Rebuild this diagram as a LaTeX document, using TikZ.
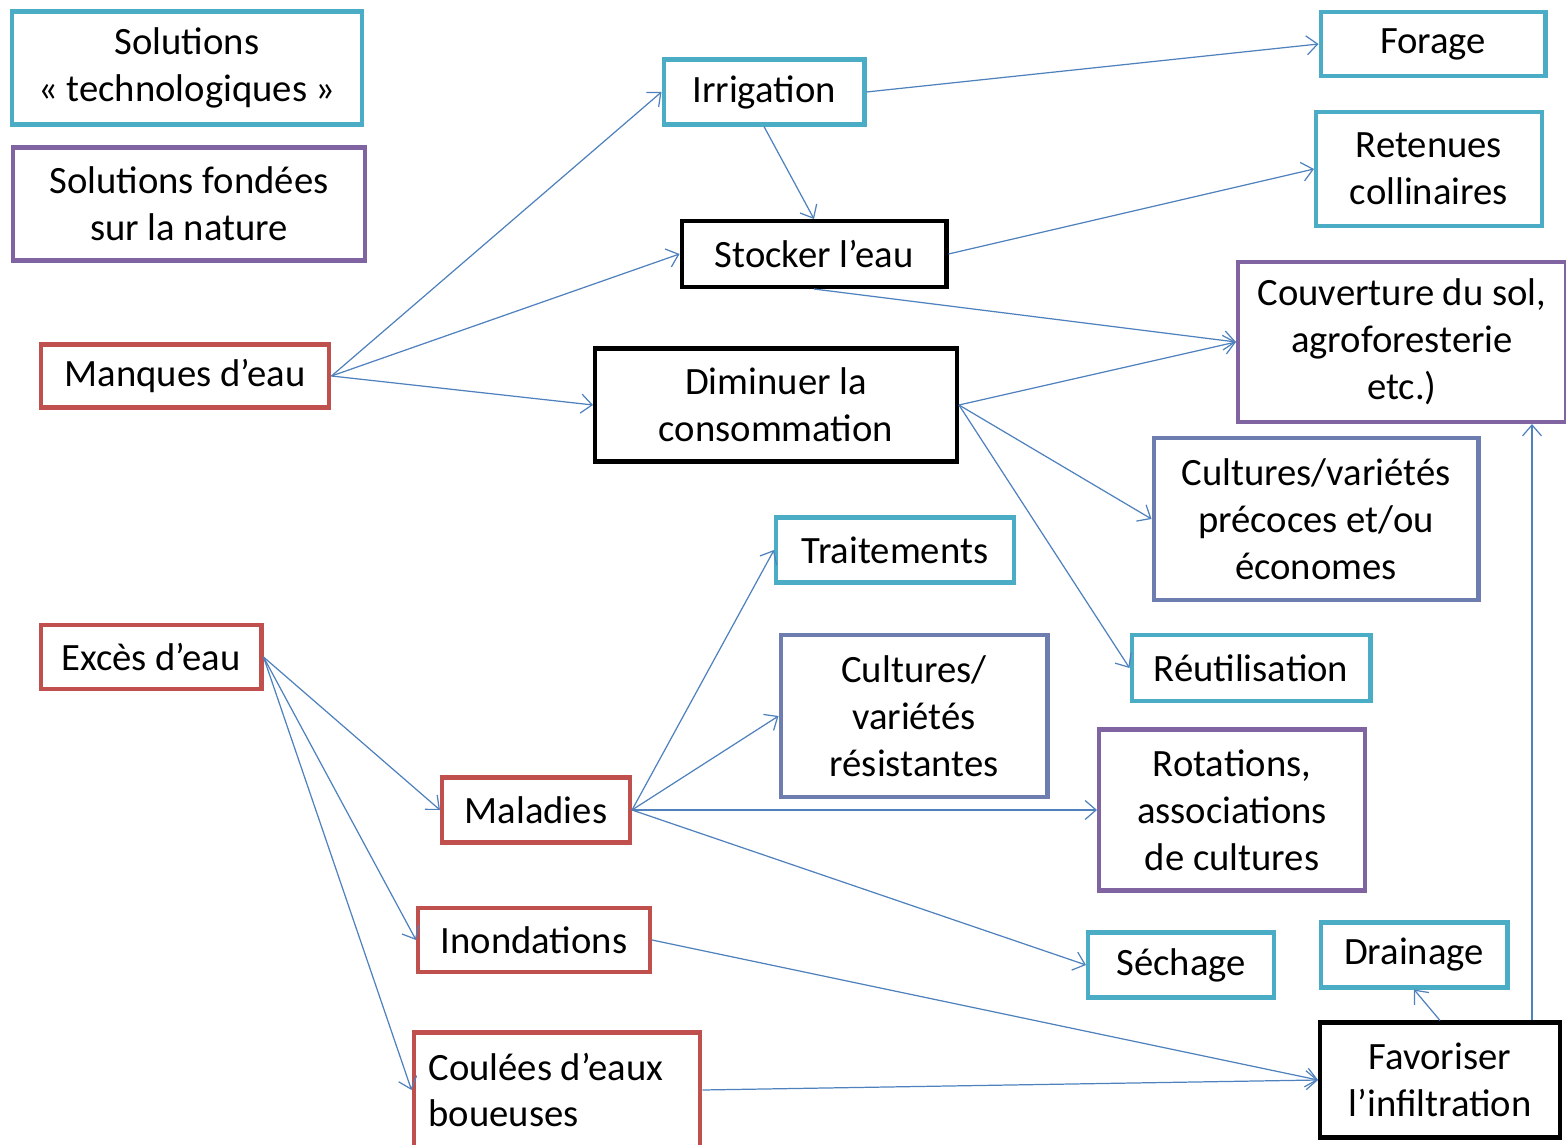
\documentclass[tikz,border=0pt]{standalone}
\usepackage{fontspec}
\setmainfont{Carlito}
\usetikzlibrary{arrows.meta}
\definecolor{techcyan}{RGB}{75,172,198}
\definecolor{natpurple}{RGB}{128,100,162}
\definecolor{probred}{RGB}{192,80,77}
\definecolor{linkblue}{RGB}{79,129,189}

\begin{document}
\begin{tikzpicture}[x=0.02cm, y=-0.02cm,
    every node/.style={font=\fontsize{22}{26.7}\selectfont, align=center, line width=2.3pt, inner sep=0pt},
    techbox/.style={draw=techcyan},
    natbox/.style={draw=natpurple},
    mixbox/.style={draw=natpurple!65!techcyan},
    probbox/.style={draw=probred},
    actbox/.style={draw=black},
    link/.style={draw=linkblue, line width=0.7pt, -{Straight Barb[length=2.2mm,width=3.8mm]}}]
    \useasboundingbox (0,0) rectangle (1566,1145);
    % legend
    \node[techbox, minimum width=7cm, minimum height=2.26cm] (soltech) at (187,68) {Solutions\\« technologiques »};
    \node[natbox, minimum width=7.04cm, minimum height=2.26cm] (solnat) at (189,204) {Solutions fondées\\sur la nature};
    % water shortage
    \node[probbox, minimum width=5.78cm, minimum height=1.26cm] (manques) at (185,376) {Manques d’eau};
    \node[techbox, minimum width=4.02cm, minimum height=1.3cm] (irrig) at (764,92) {Irrigation};
    \node[actbox, minimum width=5.3cm, minimum height=1.32cm] (stock) at (814,254) {Stocker l’eau};
    \node[actbox, minimum width=7.24cm, minimum height=2.26cm] (dimin) at (776,405) {Diminuer la\\consommation};
    \node[techbox, minimum width=4.5cm, minimum height=1.28cm] (forage) at (1433,44) {Forage};
    \node[techbox, minimum width=4.52cm, minimum height=2.28cm] (retenues) at (1429,169) {Retenues\\collinaires};
    \node[natbox, minimum width=6.56cm, minimum height=3.2cm] (couv) at (1402,342) {Couverture du sol,\\agroforesterie\\etc.)};
    \node[mixbox, minimum width=6.5cm, minimum height=3.24cm] (precoces) at (1316,519) {Cultures/variétés\\précoces et/ou\\économes};
    \node[techbox, minimum width=4.78cm, minimum height=1.32cm] (reutil) at (1251,668) {Réutilisation};
    % water excess
    \node[probbox, minimum width=4.42cm, minimum height=1.28cm] (exces) at (151,657) {Excès d’eau};
    \node[probbox, minimum width=3.76cm, minimum height=1.3cm] (malad) at (536,810) {Maladies};
    \node[probbox, minimum width=4.64cm, minimum height=1.28cm] (inond) at (534,940) {Inondations};
    \node[probbox, minimum width=5.74cm, minimum height=2.3cm, text width=5.14cm, align=flush left] (coulees) at (557,1090) {Coulées d’eaux\\boueuses};
    \node[techbox, minimum width=4.76cm, minimum height=1.3cm] (trait) at (895,550) {Traitements};
    \node[mixbox, minimum width=5.34cm, minimum height=3.24cm] (resist) at (914,716) {Cultures/\\variétés\\résistantes};
    \node[natbox, minimum width=5.32cm, minimum height=3.22cm] (rotat) at (1232,810) {Rotations,\\associations\\de cultures};
    \node[techbox, minimum width=3.72cm, minimum height=1.3cm] (sechage) at (1181,965) {Séchage};
    \node[techbox, minimum width=3.74cm, minimum height=1.3cm] (drain) at (1414,955) {Drainage};
    \node[actbox, minimum width=4.8cm, minimum height=2.3cm] (fav) at (1440,1080) {Favoriser\\l’infiltration};
    % connectors
    \draw[link] (manques.east) -- (irrig.west);
    \draw[link] (manques.east) -- (stock.west);
    \draw[link] (manques.east) -- (dimin.west);
    \draw[link] (irrig.east) -- (forage.west);
    \draw[link] (irrig.south) -- (stock.north);
    \draw[link] (stock.east) -- (retenues.west);
    \draw[link] (stock.south) -- (couv.west);
    \draw[link] (dimin.east) -- (couv.west);
    \draw[link] (dimin.east) -- (precoces.west);
    \draw[link] (dimin.east) -- (reutil.west);
    \draw[link] (exces.east) -- (malad.west);
    \draw[link] (exces.east) -- (inond.west);
    \draw[link] (exces.east) -- (coulees.west);
    \draw[link] (malad.east) -- (trait.west);
    \draw[link] (malad.east) -- (resist.west);
    \draw[link] (malad.east) -- (rotat.west);
    \draw[link] (malad.east) -- (sechage.west);
    \draw[link] (inond.east) -- (fav.west);
    \draw[link] (coulees.east) -- (fav.west);
    \draw[link] (fav.north) -- (drain.south);
    \draw[link] ([xshift=-0.6cm]fav.north east) -- ([xshift=-0.6cm]fav.north east |- couv.south);
\end{tikzpicture}
\end{document}
